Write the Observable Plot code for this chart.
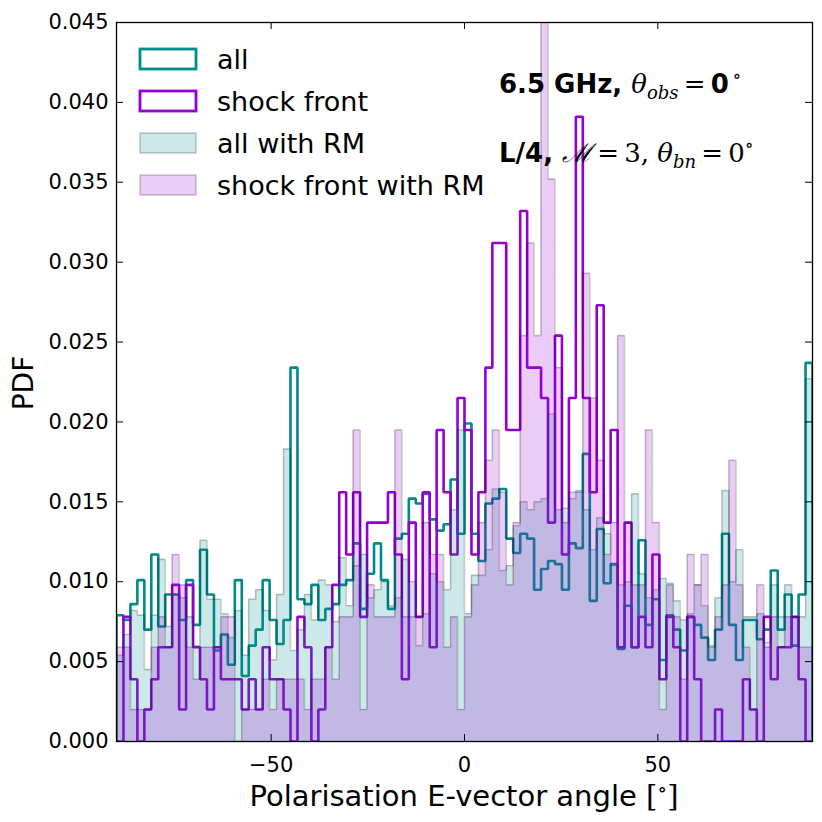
<!DOCTYPE html>
<html>
<head>
<meta charset="utf-8">
<script src="https://cdn.jsdelivr.net/npm/d3@7"></script>
<script src="https://cdn.jsdelivr.net/npm/@observablehq/plot@0.6"></script>
<style>
  html, body { margin: 0; padding: 0; background: #fff; }
  #chart { width: 822px; height: 822px; }
</style>
</head>
<body>
<div id="chart"></div>
<script>
// ---- data (PDF per 1.8 degree bin, 100 bins from -90 to 90) ----
const binLo = -90, binHi = 90, nBins = 100;

const allLine = [
 0.0079,0.0076,0.0086,0.0101,0.0070,0.0117,0.0072,0.0092,0.0092,0.0076,
 0.0101,0.0073,0.0120,0.0092,0.0057,0.0067,0.0048,0.0101,0.0041,0.0060,
 0.0070,0.0101,0.0076,0.0061,0.0076,0.0234,0.0089,0.0086,0.0098,0.0076,
 0.0083,0.0086,0.0098,0.0101,0.0124,0.0083,0.0105,0.0124,0.0101,0.0083,
 0.0127,0.0130,0.0152,0.0149,0.0155,0.0139,0.0132,0.0136,0.0164,0.0130,
 0.0199,0.0130,0.0113,0.0149,0.0152,0.0158,0.0127,0.0118,0.0130,0.0127,
 0.0095,0.0108,0.0113,0.0111,0.0095,0.0124,0.0121,0.0180,0.0088,0.0133,
 0.0099,0.0111,0.0058,0.0085,0.0059,0.0126,0.0073,0.0089,0.0051,0.0079,
 0.0070,0.0057,0.0078,0.0073,0.0065,0.0051,0.0070,0.0130,0.0073,0.0051,
 0.0076,0.0076,0.0064,0.0070,0.0107,0.0070,0.0092,0.0060,0.0092,0.0237];

const shockLine = [
 0,0.0078,0.0039,0,0.0020,0.0039,0.0059,0.0059,0.0098,0.0020,
 0.0098,0.0059,0.0039,0.0020,0.0059,0.0039,0.0039,0.0039,0.0020,0.0039,
 0.0020,0.0059,0.0039,0.0039,0.0020,0,0.0078,0.0059,0,0.0020,
 0.0059,0.0098,0.0156,0.0117,0.0156,0.0078,0.0137,0.0137,0.0137,0.0156,
 0.0117,0.0039,0.0137,0.0078,0.0156,0.0059,0.0195,0.0156,0.0117,0.0215,
 0.0195,0.0117,0.0156,0.0234,0.0312,0.0312,0.0195,0.0195,0.0332,0.0234,
 0.0234,0.0215,0.0137,0.0254,0.0117,0.0215,0.0391,0.0215,0.0156,0.0273,
 0.0137,0.0195,0.0059,0.0137,0.0059,0.0078,0.0059,0.0117,0.0039,0.0078,
 0.0059,0,0.0078,0.0039,0,0,0.0020,0,0,0,
 0.0039,0.0020,0,0.0078,0.0039,0.0059,0.0059,0.0078,0.0039,0];

const allRM = [
 0.0054,0.0067,0.0082,0.0079,0.0045,0.0079,0.0114,0.0072,0.0092,0.0090,
 0.0078,0.0060,0.0126,0.0089,0.0089,0.0080,0.0065,0.0082,0.0054,0.0089,
 0.0095,0.0082,0.0051,0.0092,0.0183,0.0057,0.0070,0.0092,0.0076,0.0101,
 0.0098,0.0075,0.0115,0.0085,0.0110,0.0117,0.0090,0.0095,0.0100,0.0085,
 0.0090,0.0114,0.0100,0.0060,0.0080,0.0105,0.0100,0.0095,0.0145,0.0195,
 0.0080,0.0104,0.0104,0.0120,0.0158,0.0107,0.0110,0.0135,0.0150,0.0145,
 0.0150,0.0152,0.0205,0.0145,0.0146,0.0152,0.0157,0.0145,0.0120,0.0140,
 0.0130,0.0110,0.0098,0.0100,0.0155,0.0105,0.0090,0.0095,0.0102,0.0099,
 0.0088,0.0076,0.0080,0.0098,0.0085,0.0060,0.0090,0.0157,0.0100,0.0120,
 0.0078,0.0078,0.0080,0.0062,0.0098,0.0078,0.0098,0.0078,0.0078,0.0227];

const shockRM = [
 0.0059,0.0059,0.0020,0.0020,0.0020,0.0059,0.0078,0.0059,0.0117,0.0098,
 0.0059,0.0039,0.0059,0.0059,0.0059,0.0078,0.0078,0,0.0020,0.0020,
 0.0020,0.0039,0.0020,0.0039,0.0039,0.0039,0.0039,0.0020,0.0039,0.0039,
 0.0059,0.0039,0.0078,0.0078,0.0195,0.0020,0.0098,0.0078,0.0078,0.0078,
 0.0195,0.0078,0.0078,0.0078,0.0137,0.0117,0.0117,0.0059,0.0078,0.0020,
 0.0078,0.0098,0.0137,0.0176,0.0195,0.0156,0.0098,0.0137,0.0254,0.0312,
 0.0254,0.0469,0.0352,0.0234,0.0137,0.0156,0.0156,0.0293,0.0215,0.0176,
 0.0117,0.0137,0.0254,0.0137,0.0098,0.0098,0.0195,0.0137,0.0020,0.0098,
 0.0078,0.0039,0.0117,0.0098,0.0117,0.0059,0.0078,0.0098,0.0176,0.0098,
 0.0059,0.0020,0.0098,0.0059,0.0078,0.0059,0.0078,0.0078,0.0059,0.0059];

const yTicks = [0,0.005,0.010,0.015,0.020,0.025,0.030,0.035,0.040,0.045];
const xTicks = [-50, 0, 50];
const legendLabels = ["all", "shock front", "all with RM", "shock front with RM"];

// ---- helpers ----
const binW = (binHi - binLo) / nBins;
const edges = d3.range(nBins + 1).map(i => binLo + i * binW);
function outline(vals) {
  const pts = [{x: edges[0], y: 0}];
  vals.forEach((v, i) => { pts.push({x: edges[i], y: v}, {x: edges[i + 1], y: v}); });
  pts.push({x: edges[nBins], y: 0});
  return pts;
}

const TEAL = "#008b8b", VIOLET = "#9400d3";
const W = 822, H = 822;
const mL = 116, mR = 10, mT = 22, mB = 81;
const pxPerX = (W - mL - mR) / (binHi - binLo);
const pxPerY = (H - mT - mB) / 0.045;
const tickX = 7 / pxPerX, tickY = 7 / pxPerY;
const minus = d => d < 0 ? "\u2212" + Math.abs(d) : String(d);

const svg = Plot.plot({
  width: W, height: H,
  marginLeft: mL, marginRight: mR, marginTop: mT, marginBottom: mB,
  style: {fontFamily: "DejaVu Sans", fontSize: "21px", color: "black", background: "white"},
  x: {domain: [binLo, binHi]},
  y: {domain: [0, 0.045]},
  marks: [
    Plot.line(outline(allLine), {x: "x", y: "y", stroke: TEAL, strokeWidth: 2.6, strokeLinejoin: "miter", clip: true}),
    Plot.line(outline(shockLine), {x: "x", y: "y", stroke: VIOLET, strokeWidth: 2.6, strokeLinejoin: "miter", clip: true}),
    Plot.area(outline(allRM), {x1: "x", y1: 0, y2: "y", fill: TEAL, fillOpacity: 0.2, clip: true}),
    Plot.line(outline(allRM), {x: "x", y: "y", stroke: "black", strokeOpacity: 0.2, strokeWidth: 1.6, strokeLinejoin: "miter", clip: true}),
    Plot.area(outline(shockRM), {x1: "x", y1: 0, y2: "y", fill: VIOLET, fillOpacity: 0.2, clip: true}),
    Plot.line(outline(shockRM), {x: "x", y: "y", stroke: "black", strokeOpacity: 0.2, strokeWidth: 1.6, strokeLinejoin: "miter", clip: true}),
    // inward ticks on all four sides
    Plot.ruleY(yTicks, {x1: binLo, x2: binLo + tickX, stroke: "black", strokeWidth: 1}),
    Plot.ruleY(yTicks, {x1: binHi - tickX, x2: binHi, stroke: "black", strokeWidth: 1}),
    Plot.ruleX(xTicks, {y1: 0, y2: tickY, stroke: "black", strokeWidth: 1}),
    Plot.ruleX(xTicks, {y1: 0.045 - tickY, y2: 0.045, stroke: "black", strokeWidth: 1}),
    Plot.frame({stroke: "black", strokeWidth: 1.3}),
    Plot.axisY(yTicks, {tickSize: 0, tickPadding: 8, tickFormat: d3.format(".3f"), label: null, fontSize: 21}),
    Plot.axisX(xTicks, {tickSize: 0, tickPadding: 16, tickFormat: minus, label: null, fontSize: 21})
  ]
});

const s = d3.select(svg);
// axis titles
s.append("text").attr("transform", "translate(33,383) rotate(-90)")
  .attr("text-anchor", "middle").attr("font-family", "DejaVu Sans").attr("font-size", 28).text("PDF");
const xl = s.append("text").attr("x", 464).attr("y", 806).attr("text-anchor", "middle")
  .attr("font-family", "DejaVu Sans").attr("font-size", 29);
xl.append("tspan").text("Polarisation E-vector angle ");
xl.append("tspan").attr("font-family", "DejaVu Serif").text("[");
xl.append("tspan").attr("font-family", "DejaVu Serif").attr("font-size", 20).attr("dy", -10).text("\u2218");
xl.append("tspan").attr("font-family", "DejaVu Serif").attr("dy", 10).text("]");

// legend
const lg = s.append("g").attr("text-anchor", "start");
const rowY = [59, 101, 143, 185];
const sw = [
  {fill: "white", fo: 1, stroke: TEAL, so: 1, sw: 2.8},
  {fill: "white", fo: 1, stroke: VIOLET, so: 1, sw: 2.8},
  {fill: TEAL, fo: 0.2, stroke: "black", so: 0.2, sw: 1.6},
  {fill: VIOLET, fo: 0.2, stroke: "black", so: 0.2, sw: 1.6}
];
legendLabels.forEach((lab, i) => {
  lg.append("rect").attr("x", 140).attr("y", rowY[i] - 10).attr("width", 56).attr("height", 20)
    .attr("fill", sw[i].fill).attr("fill-opacity", sw[i].fo)
    .attr("stroke", sw[i].stroke).attr("stroke-opacity", sw[i].so).attr("stroke-width", sw[i].sw);
  lg.append("text").attr("x", 217).attr("y", rowY[i] + 10).attr("text-anchor", "start")
    .attr("font-family", "DejaVu Sans").attr("font-size", 27).text(lab);
});

// annotations
function ann(y, parts) {
  const t = s.append("text").attr("x", 499).attr("y", y).attr("font-size", 26).attr("text-anchor", "start");
  parts.forEach(p => {
    const ts = t.append("tspan").text(p.t)
      .attr("font-family", p.f || "DejaVu Sans")
      .attr("font-weight", p.b ? "bold" : "normal")
      .attr("font-style", p.i ? "italic" : "normal");
    if (p.fs) ts.attr("font-size", p.fs);
    if (p.dy) ts.attr("dy", p.dy);
  });
}
ann(93, [
  {t: "6.5 GHz, ", b: true},
  {t: "\u03b8", f: "DejaVu Serif", i: true},
  {t: "obs", f: "DejaVu Serif", i: true, fs: 18, dy: 6},
  {t: "\u2009=\u2009", f: "DejaVu Serif", dy: -6},
  {t: "0", b: true},
  {t: "\u2009\u2218", f: "DejaVu Serif", fs: 18, dy: -11}
]);
ann(162, [
  {t: "L/4, ", b: true},
  {t: "\u2133", f: "DejaVu Serif", i: true},
  {t: "\u2009=\u20093, ", f: "DejaVu Serif"},
  {t: "\u03b8", f: "DejaVu Serif", i: true},
  {t: "bn", f: "DejaVu Serif", i: true, fs: 18, dy: 6},
  {t: "\u2009=\u20090", f: "DejaVu Serif", dy: -6},
  {t: "\u2218", f: "DejaVu Serif", fs: 18, dy: -11}
]);

document.getElementById("chart").appendChild(svg);
</script>
</body>
</html>
